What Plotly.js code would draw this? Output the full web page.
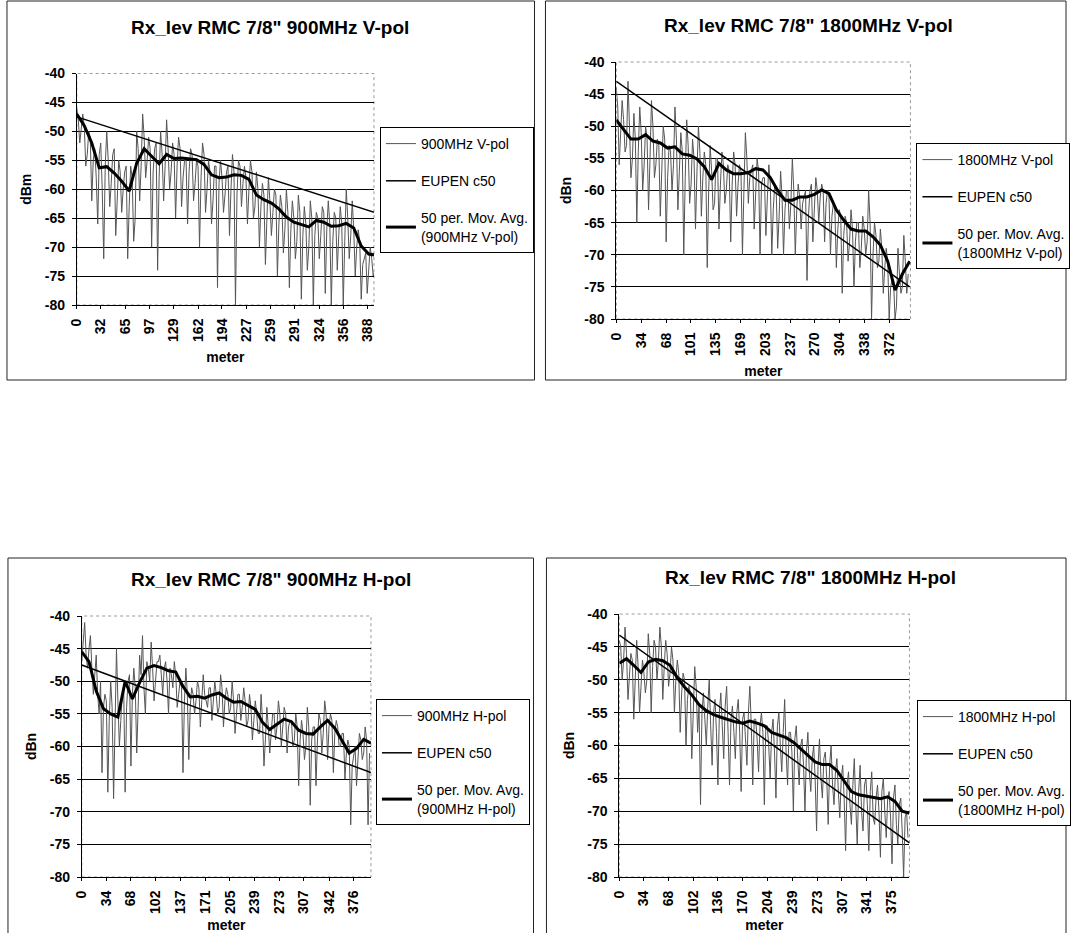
<!DOCTYPE html>
<html><head><meta charset="utf-8">
<script src="https://cdn.plot.ly/plotly-3.0.1.min.js"></script>
<style>html,body{margin:0;padding:0;background:#fff}#chart{width:1071px;height:933px}</style>
</head><body><div id="chart"></div>
<script>
// ---------------- DATA ----------------
const meters = [0,2,4,6,8,10,12,14,16,18,20,22,24,26,28,30,32,34,36,38,
40,42,44,46,48,50,52,54,56,58,60,62,64,66,68,70,72,74,76,78,
80,82,84,86,88,90,92,94,96,98,100,102,104,106,108,110,112,114,116,118,
120,122,124,126,128,130,132,134,136,138,140,142,144,146,148,150,152,154,156,158,
160,162,164,166,168,170,172,174,176,178,180,182,184,186,188,190,192,194,196,198,
200,202,204,206,208,210,212,214,216,218,220,222,224,226,228,230,232,234,236,238,
240,242,244,246,248,250,252,254,256,258,260,262,264,266,268,270,272,274,276,278,
280,282,284,286,288,290,292,294,296,298,300,302,304,306,308,310,312,314,316,318,
320,322,324,326,328,330,332,334,336,338,340,342,344,346,348,350,352,354,356,358,
360,362,364,366,368,370,372,374,376,378,380,382,384,386,388,390,392,394,396,398];
const maMeters = [0,10,20,30,40,50,60,70,80,90,100,110,120,130,140,150,160,170,180,190,200,210,220,230,240,250,260,270,280,290,300,310,320,330,340,350,360,370,380,390,400];
const eupenMeters = [0,400];
const yTicks = [-80,-75,-70,-65,-60,-55,-50,-45,-40];

const chartTitles = ['Rx_lev RMC 7/8" 900MHz V-pol','Rx_lev RMC 7/8" 1800MHz V-pol','Rx_lev RMC 7/8" 900MHz H-pol','Rx_lev RMC 7/8" 1800MHz H-pol'];
const seriesNames = ['900MHz V-pol','1800MHz V-pol','900MHz H-pol','1800MHz H-pol'];
const yTitles = ['dBm','dBn','dBn','dBn'];
const xTitle = 'meter';
const eupenName = 'EUPEN c50';

const ticks900V = [0,32,65,97,129,162,194,227,259,291,324,356,388];
const ticks1800V = [0,34,68,101,135,169,203,237,270,304,338,372];
const ticks900H = [0,34,68,102,137,171,205,239,273,307,342,376];
const ticks1800H = [0,34,68,102,136,170,204,239,273,307,341,375];
const xMax = [397,401,400,400];

const raw900V = [
-46,-48,-52,-50,-47,-49,-56,-54,-50,-51,-62,-55,-53,-58,-66,-54,-52,-60,-72,-56,
-50,-55,-63,-59,-54,-53,-68,-62,-55,-57,-64,-60,-57,-56,-72,-63,-56,-58,-69,-65,
-50,-53,-62,-56,-47,-51,-58,-55,-51,-53,-70,-57,-53,-52,-74,-58,-50,-54,-62,-56,
-48,-53,-60,-57,-52,-54,-65,-56,-51,-53,-63,-58,-55,-55,-66,-57,-53,-54,-62,-59,
-55,-56,-70,-58,-52,-54,-64,-60,-55,-57,-66,-62,-56,-56,-77,-59,-55,-58,-64,-61,
-57,-56,-68,-60,-54,-57,-80,-61,-55,-56,-63,-59,-56,-58,-66,-60,-55,-57,-65,-63,
-57,-60,-70,-63,-59,-61,-73,-65,-58,-62,-68,-64,-60,-61,-75,-66,-61,-63,-71,-67,
-60,-64,-77,-67,-62,-65,-72,-69,-61,-64,-79,-68,-63,-66,-74,-70,-62,-65,-80,-68,
-64,-65,-72,-68,-63,-64,-78,-67,-62,-66,-80,-69,-64,-65,-74,-68,-63,-66,-80,-69,
-60,-65,-72,-68,-62,-67,-75,-70,-67,-69,-79,-73,-72,-71,-78,-74,-70,-72,-75,-74];
const raw1800V = [
-44,-47,-56,-51,-46,-49,-54,-53,-43,-50,-58,-55,-48,-52,-65,-54,-47,-51,-60,-56,
-50,-52,-63,-55,-46,-50,-58,-56,-52,-53,-64,-57,-50,-52,-68,-58,-53,-54,-60,-56,
-47,-52,-63,-57,-51,-54,-70,-58,-49,-53,-62,-59,-52,-55,-66,-57,-50,-54,-64,-58,
-54,-56,-72,-60,-53,-57,-63,-62,-55,-55,-66,-59,-54,-56,-62,-60,-56,-57,-68,-59,
-54,-56,-64,-59,-56,-57,-70,-60,-51,-55,-62,-58,-57,-56,-66,-60,-55,-57,-70,-59,
-58,-58,-67,-61,-56,-59,-70,-63,-59,-60,-69,-64,-57,-61,-70,-63,-60,-60,-66,-62,
-55,-60,-70,-63,-59,-61,-66,-62,-61,-60,-74,-64,-60,-59,-68,-62,-58,-60,-65,-61,
-59,-60,-68,-62,-60,-61,-70,-64,-62,-63,-72,-66,-63,-64,-76,-67,-64,-65,-71,-68,
-63,-66,-75,-68,-65,-65,-72,-69,-64,-66,-70,-68,-60,-65,-80,-70,-65,-67,-72,-71,
-66,-69,-76,-72,-69,-71,-80,-75,-74,-74,-80,-78,-69,-73,-76,-75,-67,-71,-76,-73];
const raw900H = [
-47,-44,-41,-46,-48,-45,-43,-48,-52,-49,-46,-52,-55,-50,-64,-54,-52,-53,-67,-56,
-50,-54,-68,-57,-45,-53,-60,-56,-52,-51,-67,-54,-50,-49,-63,-52,-48,-51,-61,-54,
-46,-49,-43,-51,-55,-47,-48,-50,-44,-48,-53,-50,-47,-47,-46,-49,-52,-48,-47,-50,
-55,-48,-49,-51,-47,-49,-54,-52,-50,-51,-64,-53,-48,-52,-62,-54,-51,-52,-55,-53,
-50,-51,-57,-53,-49,-52,-53,-54,-51,-51,-56,-53,-50,-52,-55,-54,-49,-51,-57,-53,
-51,-52,-55,-54,-50,-53,-58,-55,-52,-52,-56,-54,-51,-53,-57,-56,-52,-54,-59,-56,
-53,-55,-58,-58,-52,-56,-63,-59,-54,-57,-61,-58,-55,-55,-59,-57,-53,-55,-60,-57,
-54,-55,-61,-57,-56,-56,-60,-59,-55,-57,-66,-59,-56,-58,-62,-60,-54,-57,-69,-59,
-57,-57,-66,-59,-55,-56,-61,-58,-53,-55,-62,-57,-55,-56,-64,-58,-56,-57,-60,-60,
-58,-58,-65,-61,-59,-60,-72,-63,-61,-60,-66,-62,-58,-59,-62,-61,-57,-59,-72,-61];
const raw1800H = [
-44,-45,-50,-47,-42,-46,-53,-49,-46,-47,-56,-50,-44,-48,-55,-51,-47,-49,-52,-50,
-43,-46,-55,-48,-44,-45,-50,-47,-42,-45,-53,-48,-44,-46,-51,-49,-45,-47,-55,-50,
-47,-49,-58,-52,-49,-50,-60,-53,-51,-52,-62,-55,-48,-51,-58,-54,-69,-55,-52,-56,
-60,-54,-50,-57,-63,-55,-53,-58,-66,-55,-52,-57,-62,-54,-51,-58,-66,-56,-54,-58,
-62,-55,-53,-58,-67,-56,-55,-59,-63,-55,-51,-57,-66,-56,-56,-59,-64,-57,-55,-58,
-69,-57,-57,-60,-65,-58,-56,-61,-68,-57,-55,-60,-64,-58,-53,-61,-66,-58,-58,-61,
-70,-59,-57,-62,-66,-60,-59,-63,-70,-61,-58,-64,-67,-62,-60,-65,-73,-63,-59,-65,
-68,-62,-61,-65,-72,-63,-60,-66,-69,-64,-62,-67,-71,-65,-63,-68,-76,-66,-64,-69,
-72,-66,-62,-69,-75,-67,-63,-70,-73,-66,-65,-69,-76,-67,-64,-71,-72,-68,-66,-70,
-77,-67,-65,-70,-74,-68,-67,-71,-78,-68,-66,-72,-75,-69,-68,-73,-80,-71,-70,-74];

const ma900V = [-47,-49,-52,-56.3,-56.1,-57.2,-58.6,-60.3,-55.5,-53,-54.3,-55.6,-54,-54.7,-54.6,-54.8,-54.9,-55.7,-57.5,-58,-57.9,-57.5,-57.6,-58.3,-61,-61.8,-62.4,-63.4,-64.8,-65.7,-66.1,-66.5,-65.4,-65.7,-66.4,-66.3,-65.9,-66.7,-69.8,-71.2,-71.4];
const ma1800V = [-49,-50.5,-52,-52,-51.3,-52.3,-52.6,-53.4,-53.2,-54.3,-54.5,-55.1,-56.3,-58.3,-55.8,-56.8,-57.4,-57.4,-57.2,-56.6,-56.8,-58,-60,-61.5,-61.5,-61,-61,-60.6,-59.9,-60.5,-63,-64.6,-66,-66.3,-66.3,-67.2,-68.5,-71,-75.5,-73,-71];
const ma900H = [-45.5,-47,-51.5,-54.2,-55,-55.5,-50,-52.7,-50.2,-48,-47.6,-47.9,-48.4,-48.6,-50.8,-52.4,-52.3,-52.6,-52.1,-51.8,-52.6,-53.2,-53.1,-53.7,-54.3,-56.3,-57.4,-56.6,-55.8,-56.2,-57.5,-58,-58.1,-57,-56,-57.2,-59,-61,-60.3,-58.9,-59.5];
const ma1800H = [-47.5,-46.8,-47.8,-48.9,-47.3,-46.9,-47.1,-47.8,-49.7,-51.1,-52.3,-53.8,-54.7,-55.3,-55.7,-56.1,-56.4,-56.6,-56.3,-56.6,-57,-58,-58.4,-58.8,-59.5,-60.5,-61.5,-62.5,-62.9,-62.9,-63.8,-65.5,-67,-67.5,-67.7,-68,-68.1,-67.8,-68.5,-70,-70.3];

const eupen900V = [-47.5,-64.1];
const eupen1800V = [-43,-75];
const eupen900H = [-47.5,-64];
const eupen1800H = [-43.2,-74.8];

// ---------------- LAYOUT (pixels) ----------------
const W = 1071, H = 933;
const FONT = 'Liberation Sans, Arial, sans-serif';
const px = v => v / W, py = v => 1 - v / H;

const panels = [
  {raw: raw900V, ma: ma900V, eu: eupen900V, ticks: ticks900V, xd:[77,375], yd:[73.5,305], box:[7,1,536,380], title:[271,28], leg:[381,127]},
  {raw: raw1800V, ma: ma1800V, eu: eupen1800V, ticks: ticks1800V, xd:[618,913], yd:[62,319], box:[547,1,1069,380], title:[811,25], leg:[919,143]},
  {raw: raw900H, ma: ma900H, eu: eupen900H, ticks: ticks900H, xd:[82,372], yd:[616,877], box:[8,558,535,945], title:[272,579], leg:[377,699]},
  {raw: raw1800H, ma: ma1800H, eu: eupen1800H, ticks: ticks1800H, xd:[621,912], yd:[614,877], box:[548,558,1069,945], title:[813,577], leg:[920,700]}
];

const traces = [];
const layout = {
  width: W, height: H, margin: {l:0, r:0, t:0, b:0},
  paper_bgcolor: '#fff', plot_bgcolor: '#fff',
  font: {family: FONT, color: '#000', size: 14},
  showlegend: true, annotations: [], shapes: []
};

const tickFont = {family: FONT, size: 14, weight: 'bold', color: '#000'};
const titleFont = {family: FONT, size: 14, weight: 'bold', color: '#000'};

panels.forEach((p, i) => {
  const s = i === 0 ? '' : String(i + 1);
  const xa = 'x' + s, ya = 'y' + s, lg = 'legend' + s;
  traces.push({x: meters, y: p.raw, xaxis: xa, yaxis: ya, type: 'scatter', mode: 'lines',
    name: seriesNames[i], legend: lg, legendgroup: 'r' + i,
    line: {color: '#555', width: 1}, hoverinfo: 'skip'});
  traces.push({x: eupenMeters, y: p.eu, xaxis: xa, yaxis: ya, type: 'scatter', mode: 'lines',
    name: eupenName, legend: lg, legendgroup: 'e' + i,
    line: {color: '#000', width: 1.5}, hoverinfo: 'skip'});
  traces.push({x: maMeters, y: p.ma, xaxis: xa, yaxis: ya, type: 'scatter', mode: 'lines',
    name: '50 per. Mov. Avg.<br>(' + seriesNames[i] + ')', legend: lg, legendgroup: 'm' + i,
    line: {color: '#000', width: 3}, hoverinfo: 'skip'});

  layout['xaxis' + s] = {
    domain: [px(p.xd[0]), px(p.xd[1])], anchor: ya, range: [0, xMax[i]],
    tickmode: 'array', tickvals: p.ticks, ticktext: p.ticks.map(String), tickangle: -90,
    tickfont: tickFont, ticks: 'outside', ticklen: 3, tickcolor: '#000', ticklabelstandoff: 4,
    showline: true, linecolor: '#000', linewidth: 1, showgrid: false, zeroline: false,
    title: {text: xTitle, font: titleFont, standoff: 11}, automargin: false, fixedrange: true
  };
  layout['yaxis' + s] = {
    domain: [py(p.yd[1]), py(p.yd[0])], anchor: xa, range: [-80, -40],
    tickmode: 'array', tickvals: yTicks, ticktext: yTicks.map(String),
    tickfont: tickFont, ticks: 'outside', ticklen: 4, tickcolor: '#000', ticklabelstandoff: 4,
    showline: true, linecolor: '#000', linewidth: 1, showgrid: true, gridcolor: '#000', gridwidth: 1,
    zeroline: false, title: {text: yTitles[i], font: titleFont, standoff: 9}, automargin: false, fixedrange: true
  };
  layout[lg] = {
    x: px(p.leg[0]), y: py(p.leg[1]), xanchor: 'left', yanchor: 'top',
    bgcolor: '#fff', bordercolor: '#000', borderwidth: 1,
    font: {family: FONT, size: 14, color: '#000'},
    traceorder: 'grouped', tracegroupgap: 16, itemwidth: 30
  };
  layout.annotations.push({text: chartTitles[i], xref: 'paper', yref: 'paper',
    x: px(p.title[0]), y: py(p.title[1]), xanchor: 'center', yanchor: 'middle', showarrow: false,
    font: {family: FONT, size: 19, weight: 'bold', color: '#000'}});
  layout.shapes.push({type: 'rect', xref: 'paper', yref: 'paper',
    x0: px(p.box[0]), x1: px(p.box[2]), y0: py(p.box[3]), y1: py(p.box[1]),
    line: {color: '#222', width: 1}, layer: 'below'});
  layout.shapes.push({type: 'rect', xref: xa + ' domain', yref: ya + ' domain',
    x0: 0, x1: 1, y0: 0, y1: 1, line: {color: '#999', width: 1, dash: 'dot'}, layer: 'below'});
});

Plotly.newPlot('chart', traces, layout, {staticPlot: true, displayModeBar: false});
</script>
</body></html>
